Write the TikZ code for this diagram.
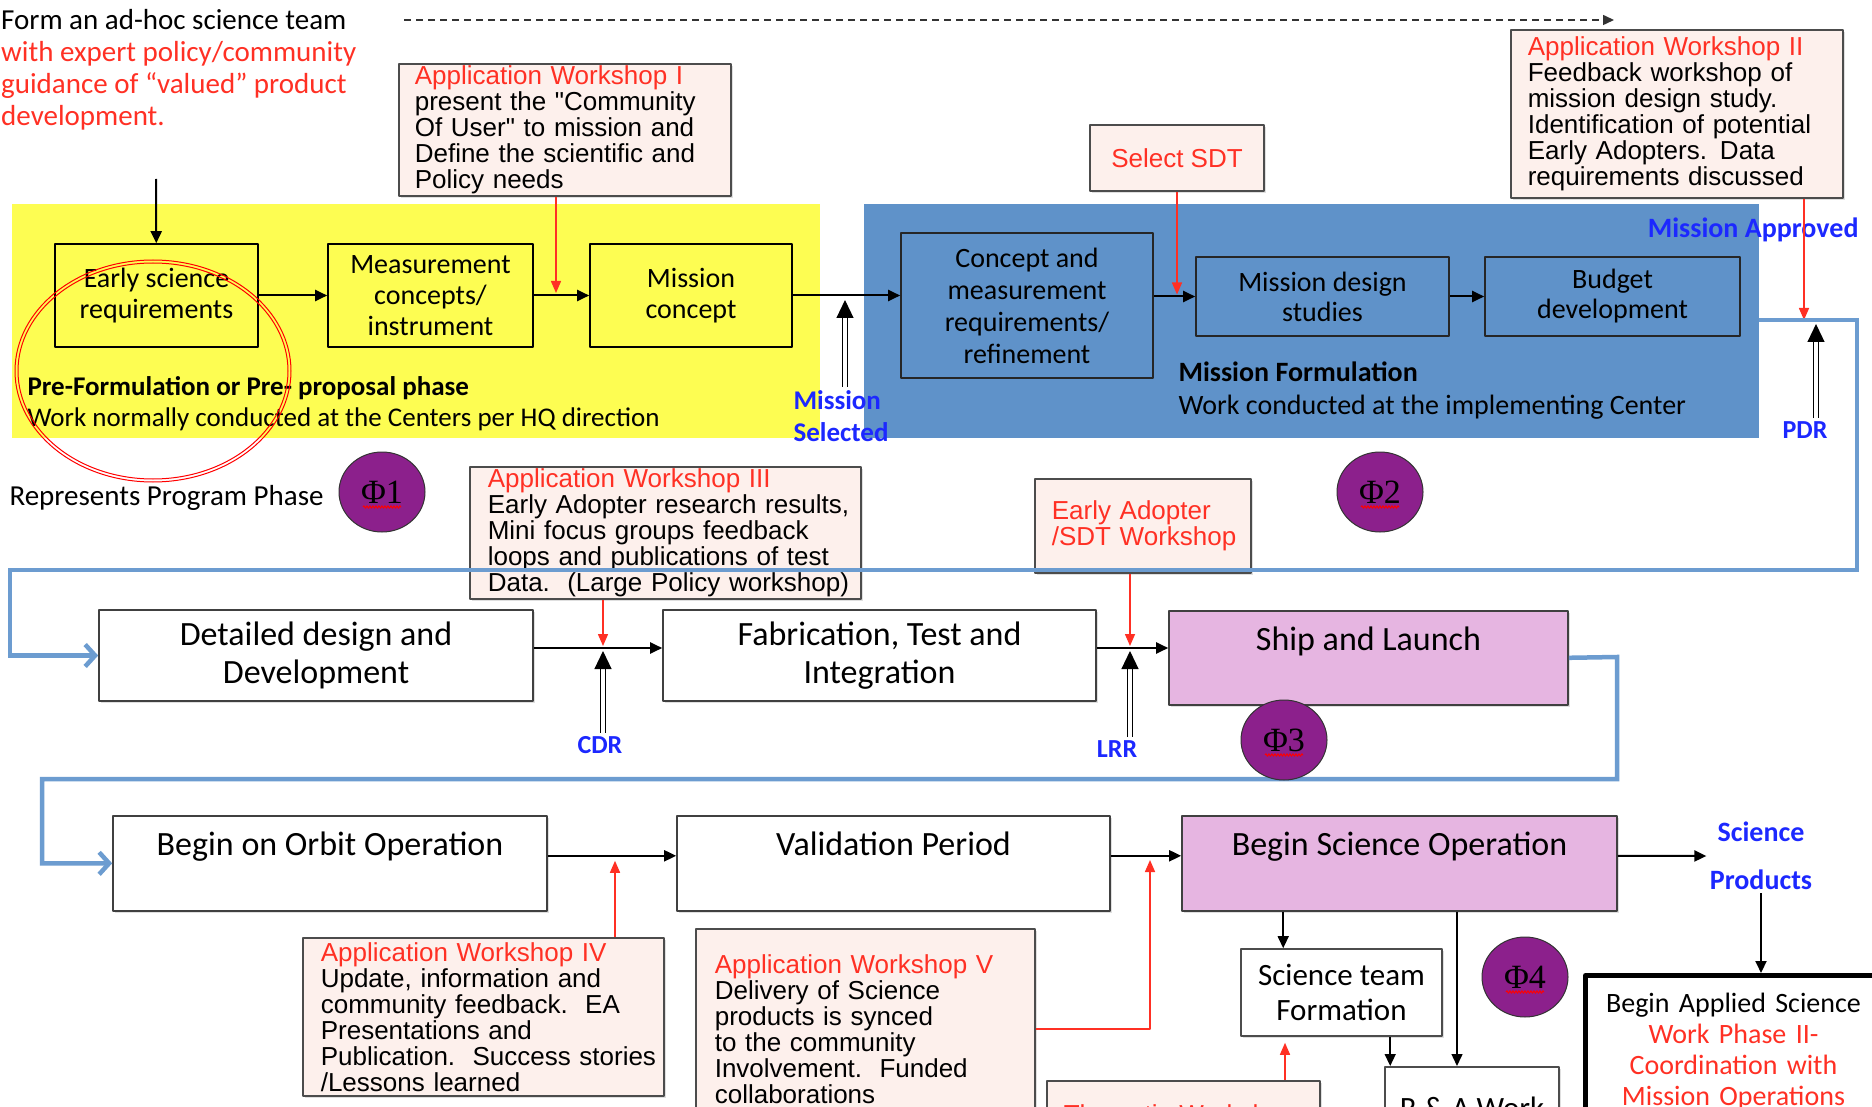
\documentclass[tikz,border=0pt]{standalone}
\usepackage{fontspec}
\setmainfont{Carlito}
\newfontfamily\shopfont{Liberation Sans}
\newfontfamily\phasefont{Liberation Serif}
\usetikzlibrary{arrows.meta,shapes.geometric,shadows,decorations.pathmorphing}
\newcommand\fsz[2]{\fontsize{#1}{#2}\selectfont}
\definecolor{prefill}{RGB}{253,253,82}
\definecolor{formfill}{RGB}{95,146,201}
\definecolor{shopfill}{RGB}{253,240,236}
\definecolor{pinkfill}{RGB}{230,181,225}
\definecolor{phasefill}{RGB}{140,32,140}
\definecolor{loopblue}{RGB}{108,156,208}
\definecolor{labblue}{RGB}{28,40,255}
\definecolor{redtx}{RGB}{255,48,36}
\begin{document}
\begin{tikzpicture}[x=1pt, y=-1pt, line join=round,
  stage/.style={draw=black, line width=1.6pt, align=center, font=\fsz{28}{31}},
  bigbox/.style={draw=black!75, line width=1.6pt, fill=white, align=center, font=\fsz{34}{38},
    drop shadow={shadow xshift=2pt, shadow yshift=-2pt, opacity=.25}},
  topbox/.style={bigbox, anchor=north, text height=24pt, text depth=39pt, inner ysep=16pt},
  shop/.style={draw=black!70, line width=1.6pt, fill=shopfill, anchor=north west, align=left,
    inner ysep=2pt, font=\shopfont\fsz{26}{26},
    drop shadow={shadow xshift=2pt, shadow yshift=-2pt, opacity=.25}},
  phase/.style={ellipse, draw=black!80, line width=1pt, fill=phasefill, minimum width=86pt,
    minimum height=80pt, inner sep=0pt, font=\phasefont\fsz{34}{34}},
  gatelab/.style={text=labblue, font=\bfseries\fsz{26}{30}},
  flow/.style={line width=2pt, -{Triangle[length=12pt,width=11pt]}},
  redflow/.style={draw=redtx, line width=1.5pt, -{Triangle[length=12pt,width=10pt]}},
  gate/.style={draw=black, double=white, double distance=3.5pt, line width=1.2pt,
    -{Triangle[length=18pt,width=17pt]}},
  loop/.style={draw=loopblue, line width=4.5pt, line join=miter,
    -{Straight Barb[length=10pt,width=22pt]}},
  wavy/.style={draw=red, line width=1pt, decorate,
    decoration={snake, amplitude=1.2pt, segment length=3pt}}]
\fill[white] (0,0) rectangle (1872,1107);
\useasboundingbox (0,0) rectangle (1872,1107);
\clip (0,0) rectangle (1872,1107);

% phase areas
\node[fill=prefill, minimum width=808pt, minimum height=234pt, inner sep=0pt] (prefor) at (416,321) {};
\node[fill=formfill, minimum width=895pt, minimum height=234pt, inner sep=0pt] (formul) at (1311.5,321) {};

% team note and dashed arrow
\node[anchor=west, align=left, inner sep=0pt, font=\fsz{29}{32}] (adhoc) at (1,70)
  {Form an ad-hoc science team\\\textcolor{redtx}{with expert policy/community}\\
   \textcolor{redtx}{guidance of “valued” product}\\\textcolor{redtx}{development.}};
\path (156,179) coordinate (teamin)
  (404,20) coordinate (dashin)
  (1614,20) coordinate (dashout);
\draw[black!80, line width=1.5pt, dash pattern=on 7pt off 5pt,
  -{Triangle[length=11pt,width=10pt]}] (dashin) -- (dashout);

% pre-formulation
\node[stage, minimum width=203pt, minimum height=103pt] (esr) at (156.5,295.5) {Early science\\requirements};
\node[stage, minimum width=205pt, minimum height=103pt] (mci) at (430.5,295.5) {Measurement\\concepts/\\instrument};
\node[stage, minimum width=202pt, minimum height=103pt] (mcon) at (691,295.5) {Mission\\concept};
\node[anchor=west, align=left, font=\fsz{27}{31}] (pf) at (24,404)
  {\textbf{Pre-Formulation or Pre- proposal phase}\\Work normally conducted at the Centers per HQ direction};

% formulation
\node[stage, draw=black!85, minimum width=252pt, minimum height=145pt, font=\fsz{28}{32}] (cmr) at (1027,305.5)
  {Concept and\\measurement\\requirements/\\refinement};
\node[stage, draw=black!85, minimum width=253pt, minimum height=79pt, font=\fsz{28}{30}] (mds) at (1322.5,296.5) {Mission design\\studies};
\node[stage, draw=black!85, minimum width=255pt, minimum height=79pt, font=\fsz{28}{30}] (bud) at (1612.5,296.5) {Budget\\development};
\node[anchor=west, align=left, font=\fsz{28}{33}] (mf) at (1175,391)
  {\textbf{Mission Formulation}\\Work conducted at the implementing Center};

% workshops
\node[shop, text width=300pt, inner xsep=16pt, minimum height=130pt] (ws1) at (398,63)
  {\textcolor{redtx}{Application Workshop I}\\present the "Community\\Of User" to mission and\\Define the scientific and\\Policy needs};
\node[shop, anchor=center, align=center, minimum width=174pt, minimum height=66pt, text=redtx] (sdt) at (1177,158) {Select SDT};
\node[shop, text width=298pt, inner xsep=17pt, minimum height=168pt] (ws2) at (1510,29)
  {\textcolor{redtx}{Application Workshop II}\\Feedback workshop of\\mission design study.\\Identification of potential\\Early Adopters. Data\\requirements discussed};
\node[shop, text width=355pt, inner xsep=18pt, minimum height=130pt] (ws3) at (469,466)
  {\textcolor{redtx}{Application Workshop III}\\\mbox{Early Adopter research results,}\\Mini focus groups feedback\\loops and publications of test\\\mbox{Data.\ \ (Large Policy workshop)}};
\node[shop, text width=182pt, inner xsep=17pt, minimum height=94pt, text=redtx] (eas) at (1034,478)
  {Early Adopter\\\mbox{/SDT Workshop}};
\node[shop, text width=325pt, inner xsep=18pt, minimum height=158pt] (ws4) at (302,937)
  {\textcolor{redtx}{Application Workshop IV}\\Update, information and\\community feedback.\ \ EA\\Presentations and\\\mbox{Publication.\ \ Success stories}\\/Lessons learned};
\node[shop, text width=301pt, inner xsep=19pt, minimum height=200pt] (ws5) at (695,928)
  {\textcolor{redtx}{Application Workshop V}\\Delivery of Science\\products is synced\\to the community\\Involvement.\ \ Funded\\collaborations};
\node[shop, text width=239pt, inner xsep=17pt, inner ysep=24pt, text=redtx] (thm) at (1046,1080) {Thematic Workshop};

% implementation
\node[bigbox, minimum width=434pt, minimum height=91pt] (ddd) at (316,655.5) {Detailed design and\\Development};
\node[bigbox, minimum width=433pt, minimum height=91pt] (fti) at (879.5,655.5) {Fabrication, Test and\\Integration};
\node[topbox, fill=pinkfill, minimum width=399pt, text depth=38pt] (sal) at (1368.5,610) {Ship and Launch};
\node[topbox, minimum width=434pt] (bor) at (330,815) {Begin on Orbit Operation};
\node[topbox, minimum width=433pt] (vp) at (893.5,815) {Validation Period};
\node[topbox, fill=pinkfill, minimum width=435pt] (bso) at (1399.5,815) {Begin Science Operation};
\node[bigbox, draw=black!70, minimum width=201pt, minimum height=87pt, font=\fsz{31}{35}] (stf) at (1341.5,992.5) {Science team\\Formation};
\node[bigbox, draw=black!70, anchor=north, minimum width=174pt, inner ysep=30pt, font=\fsz{31}{35}] (ra) at (1472,1066) {R \& A Work};
\node[draw=black, line width=5pt, fill=white, anchor=north west, align=center, text width=296pt,
  inner xsep=0pt, inner ysep=18pt, font=\fsz{28}{31}] (bas) at (1583,973)
  {Begin Applied Science\\\textcolor{redtx}{Work Phase II-}\\\textcolor{redtx}{Coordination with}\\\textcolor{redtx}{Mission Operations}};

% gate labels
\node[gatelab, font=\bfseries\fsz{27}{32}, align=left, anchor=west] (msel) at (790,416) {Mission\\Selected};
\node[gatelab, font=\bfseries\fsz{28}{30}, anchor=east] (mapp) at (1862,230) {Mission Approved};
\node[gatelab] (pdr) at (1805,430) {PDR};
\node[gatelab] (cdr) at (600,745) {CDR};
\node[gatelab] (lrr) at (1117,749) {LRR};
\node[gatelab, font=\bfseries\fsz{28}{48}, align=center] (prod) at (1761,856) {Science\\Products};
\node[anchor=west, font=\fsz{29}{32}] (rpp) at (6,498) {Represents Program Phase};

% junctions
\path (556,295) coordinate (ws1j)
  (845,300) coordinate (selj)
  (1804,320) coordinate (pdrj)
  (1816,324) coordinate (pdrk)
  (603,648) coordinate (cdrj)
  (1130,648) coordinate (lrrj)
  (1150,855) coordinate (ws5j)
  ([xshift=313pt]ws4.north west) coordinate (ws4j)
  ([xshift=43pt]stf.north west) coordinate (stfin)
  ([xshift=-15pt]ra.north) coordinate (rain)
  ([xshift=6pt]ra.north west) coordinate (raleft)
  ([xshift=239pt]thm.north west) coordinate (thmj);

% flow
\draw[flow] (teamin) -- (esr);
\draw[flow] (esr) -- (mci);
\draw[flow] (mci) -- (mcon);
\draw[flow] (mcon.east) -- (mcon.east -| cmr.west);
\draw[flow] (cmr.east |- mds.west) -- (mds.west);
\draw[flow] (mds) -- (bud);
\draw[flow] (ddd.east |- cdrj) -- (fti.west |- cdrj);
\draw[flow] (fti.east |- lrrj) -- (sal.west |- lrrj);
\draw[flow] (bor.text -| bor.east) -- (bor.text -| vp.west);
\draw[flow] (vp.text -| vp.east) -- (vp.text -| bso.west);
\draw[flow] (bso.text -| bso.east) -- (prod.west);
\draw[flow] (prod.south) -- (prod.south |- bas.north);
\draw[flow, line width=1.5pt] (bso.south -| stfin) -- (stfin);
\draw[flow, line width=1.5pt] (bso.south -| rain) -- (rain);
\draw[flow, line width=1.5pt] (stf.south -| raleft) -- (raleft);

% workshop inputs
\draw[redflow, shorten >=2pt] (ws1.south -| ws1j) -- (ws1j);
\draw[redflow, shorten >=2pt] (sdt.south) -- (sdt.south |- mds.west);
\draw[redflow] (ws2.south -| pdrj) -- (pdrj);
\draw[redflow, shorten >=2pt] (ws3.south -| cdrj) -- (cdrj);
\draw[redflow, shorten >=2pt] (eas.south -| lrrj) -- (lrrj);
\draw[redflow, shorten >=5pt] (ws4j) -- (ws4j |- bor.text);
\draw[redflow, shorten >=5pt] (ws5.east) -| (ws5j);
\draw[redflow, shorten >=6pt] (thmj) -- (thmj |- stf.south);

% gates
\draw[gate] (msel.north -| selj) -- (selj);
\draw[gate] (pdr.north -| pdrk) -- (pdrk);
\draw[gate] (cdr.north -| cdrj) -- ([yshift=-3pt]cdrj);
\draw[gate] (lrr.north -| lrrj) -- ([yshift=-3pt]lrrj);

% loops to next row
\draw[loop] (formul.east |- pdrj) -- (1857,320) |- (10,570) |- (ddd.west);
\draw[loop] (sal.east) -- (1617,657) |- (42,779) |- (bor.west);

% phases
\node[phase] (p1) at (382,492) {Φ1};
\node[phase] (p2) at (1380,492) {Φ2};
\node[phase] (p3) at (1284,740) {Φ3};
\node[phase] (p4) at (1525,977) {Φ4};
\foreach \p in {p1,p2,p3,p4}
  \draw[wavy] ([xshift=-19pt,yshift=-15pt]\p.center) -- ([xshift=19pt,yshift=-15pt]\p.center);

% marked phase
\foreach \d in {0,3}
  \draw[red, line width=1pt] (153,371) ellipse [x radius=138pt-\d pt, y radius=111pt-\d pt];
\end{tikzpicture}
\end{document}
